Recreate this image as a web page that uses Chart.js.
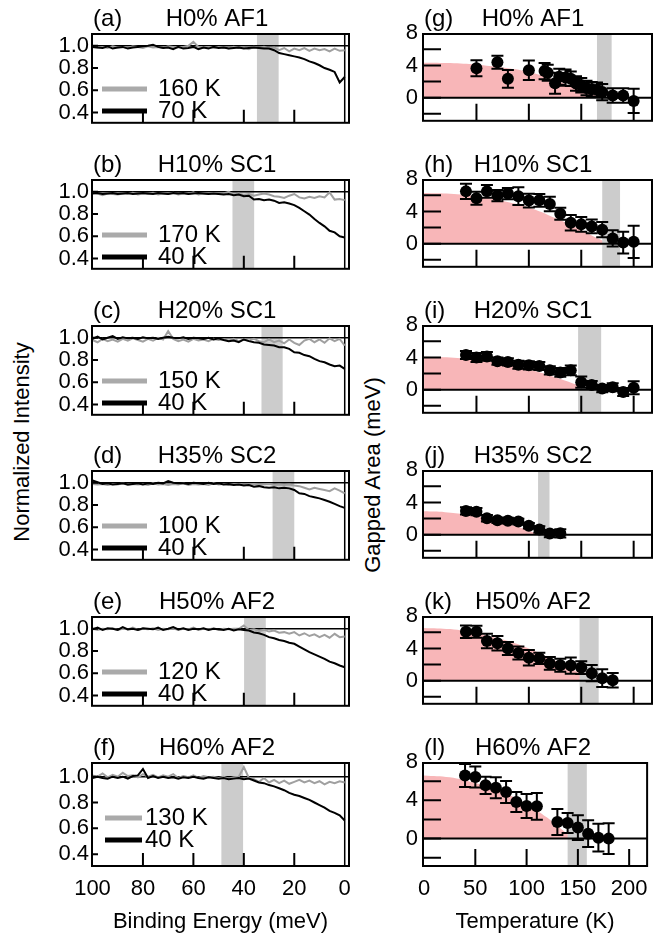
<!DOCTYPE html>
<html>
<head>
<meta charset="utf-8">
<script src="https://cdn.jsdelivr.net/npm/chart.js@4.4.0/dist/chart.umd.min.js"></script>
<style>
  body { margin: 0; background: #fff; width: 658px; height: 939px; position: relative; overflow: hidden;
         font-family: "Liberation Sans", Arial, sans-serif; }
  canvas { position: absolute; }
  .vlab { position: absolute; width: 300px; height: 26px; line-height: 26px; text-align: center;
          font-size: 22px; color: #000; transform: rotate(-90deg); transform-origin: 150px 13px; }
</style>
</head>
<body>
<div class="vlab" style="left:-128px; top:429px;">Normalized Intensity</div>
<div class="vlab" style="left:223px; top:462px;">Gapped Area (meV)</div>
<script>
// ---------- left column: spectra ----------
const energy = [100,98,96,94,92,90,88,86,84,82,80,78,76,74,72,70,68,66,64,62,60,58,56,54,52,50,48,46,44,42,40,38,36,34,32,30,28,26,24,22,20,18,16,14,12,10,8,6,4,2,0];

const leftTags = ["(a)", "(b)", "(c)", "(d)", "(e)", "(f)"];
const leftTitles = ["H0% AF1", "H10% SC1", "H20% SC1", "H35% SC2", "H50% AF2", "H60% AF2"];
const warmLabels = ["160 K", "170 K", "150 K", "100 K", "120 K", "130 K"];
const coldLabels = ["70 K", "40 K", "40 K", "40 K", "40 K", "40 K"];
const leftBands = [[26.2, 34.8], [35.9, 44.5], [24.6, 33], [20, 28.6], [31.3, 39.9], [40.3, 48.9]];

const warmA = [0.99,0.985,0.99,0.98,0.995,0.985,0.99,0.98,0.995,0.99,0.98,0.995,0.985,0.99,0.98,0.995,0.99,0.985,0.99,1.0,1.035,0.99,0.985,0.99,0.98,0.99,0.985,0.975,0.99,0.98,0.985,0.97,0.99,0.98,0.99,0.975,0.985,0.96,0.98,0.95,0.975,0.96,0.98,0.955,0.975,0.96,0.97,0.95,0.975,0.955,0.96];
const coldA = [0.99,0.985,0.98,0.995,0.975,0.985,0.99,0.975,0.985,0.99,0.995,1.0,1.01,0.99,0.98,0.985,0.97,0.99,0.975,0.98,0.99,0.97,0.985,0.975,0.99,0.98,0.985,0.975,0.98,0.985,0.975,0.98,0.985,0.98,0.975,0.975,0.96,0.935,0.925,0.915,0.905,0.895,0.88,0.86,0.845,0.825,0.8,0.785,0.765,0.67,0.72];
const warmB = [0.99,0.985,0.97,0.985,0.98,0.975,0.985,0.98,0.99,0.975,0.985,0.98,0.99,0.975,0.985,0.98,0.99,0.975,0.985,0.98,0.995,0.975,0.985,0.98,0.99,0.98,0.985,1.0,0.975,0.985,0.97,0.98,0.965,0.975,0.985,0.975,0.96,0.955,0.945,0.965,0.98,0.95,0.94,0.955,0.945,0.96,0.95,0.995,0.93,0.935,0.925];
const coldB = [0.985,0.99,0.98,0.985,0.99,0.98,0.985,0.99,0.98,0.985,0.99,0.985,0.98,0.99,0.985,0.98,0.99,0.985,0.99,0.98,0.985,0.99,0.985,0.98,0.985,0.98,0.975,0.98,0.97,0.975,0.96,0.965,0.93,0.935,0.925,0.93,0.92,0.9,0.905,0.895,0.88,0.855,0.825,0.795,0.755,0.72,0.69,0.65,0.635,0.6,0.59];
const warmC = [0.98,0.96,0.99,0.97,0.985,0.965,0.99,0.975,0.995,0.98,0.965,0.99,0.975,1.0,0.985,1.06,0.99,0.97,0.985,0.965,0.99,0.975,0.985,0.97,0.99,0.98,0.985,0.975,0.99,0.97,0.985,0.975,0.99,0.97,0.96,0.985,0.96,0.975,0.95,0.985,0.955,0.935,0.975,0.99,0.96,0.985,0.955,0.995,0.97,0.99,0.93];
const coldC = [0.99,1.01,0.985,1.0,1.015,0.99,1.005,0.995,1.0,0.99,1.005,0.995,1.0,0.99,1.0,1.01,1.0,0.995,1.005,0.99,1.0,0.995,0.99,1.0,0.985,0.995,0.98,0.97,0.975,0.96,0.985,0.97,0.96,0.955,0.94,0.935,0.93,0.915,0.915,0.9,0.87,0.865,0.845,0.835,0.81,0.79,0.78,0.76,0.745,0.75,0.72];
const warmD = [0.99,0.985,0.99,0.98,0.99,0.985,0.995,0.98,0.99,0.985,0.99,0.98,0.995,0.985,0.99,0.98,0.99,0.985,0.995,0.98,0.99,0.985,0.99,0.98,0.995,0.985,0.99,0.98,0.985,0.99,0.98,0.985,0.99,0.98,0.985,0.99,0.98,0.985,0.98,0.985,0.975,0.97,0.955,0.94,0.955,0.945,0.935,0.925,0.95,0.93,0.905];
const coldD = [1.02,1.005,0.99,0.995,0.985,0.99,0.995,0.985,0.99,0.995,0.985,0.995,0.99,1.0,0.995,1.015,1.0,0.995,0.995,0.99,1.0,0.995,0.99,1.0,0.99,0.995,0.985,0.99,0.98,0.985,0.975,0.98,0.965,0.97,0.96,0.955,0.96,0.95,0.955,0.95,0.935,0.905,0.9,0.88,0.87,0.86,0.845,0.83,0.81,0.79,0.775];
const warmE = [1.0,0.99,1.0,0.995,1.005,0.99,1.0,0.995,1.01,0.99,1.0,0.995,1.005,0.99,1.0,0.995,1.005,0.99,1.0,0.995,1.01,0.99,1.0,0.995,1.005,0.99,1.0,0.995,1.0,1.0,1.03,0.99,0.995,0.98,0.99,0.975,0.985,0.965,0.97,0.955,0.97,0.94,0.96,0.935,0.95,0.925,0.945,0.92,0.955,0.925,0.93];
const coldE = [0.995,1.01,0.99,1.005,1.0,0.99,1.015,0.995,1.0,0.99,1.005,1.0,0.995,1.01,0.99,1.0,1.015,0.995,1.005,0.99,1.0,0.995,1.005,0.99,1.0,0.995,0.99,1.0,0.985,0.995,0.99,0.985,0.967,0.96,0.945,0.925,0.915,0.9,0.89,0.875,0.865,0.84,0.815,0.79,0.77,0.75,0.73,0.705,0.69,0.67,0.655];
const warmF = [1.01,1.0,1.025,0.995,1.015,1.0,1.03,1.005,1.01,0.995,1.02,1.0,1.015,0.995,1.01,1.0,1.02,0.99,1.005,0.995,1.01,0.99,1.005,0.995,1.0,0.99,1.0,0.985,0.995,1.0,1.075,0.99,0.98,0.96,0.99,0.955,0.975,0.95,0.97,0.945,0.96,0.975,0.955,0.97,0.95,0.965,0.94,0.96,0.95,0.965,0.955];
const coldF = [0.99,1.0,0.99,0.985,1.0,0.99,1.0,0.985,1.005,1.01,1.06,0.99,1.005,0.99,1.0,0.99,0.995,0.985,0.995,0.99,1.0,0.99,0.985,0.995,0.99,0.985,0.99,0.98,0.985,0.99,0.98,0.985,0.97,0.955,0.95,0.935,0.925,0.91,0.895,0.875,0.86,0.85,0.835,0.82,0.8,0.78,0.76,0.735,0.72,0.7,0.66];

const warmSeries = [warmA, warmB, warmC, warmD, warmE, warmF];
const coldSeries = [coldA, coldB, coldC, coldD, coldE, coldF];
const energyTicks = [0, 20, 40, 60, 80, 100];
const intensityTicks = [0.4, 0.6, 0.8, 1.0];

// ---------- right column: gapped area ----------
const rightTags = ["(g)", "(h)", "(i)", "(j)", "(k)", "(l)"];
const rightTitles = ["H0% AF1", "H10% SC1", "H20% SC1", "H35% SC2", "H50% AF2", "H60% AF2"];
const rightBands = [[165, 179], [170, 187], [147, 169], [108.8, 119.7], [148.4, 166.6], [140, 158.7]];

const tempG = [50,70,80,100,115,118,125,129,135,140,145,150,155,160,165,170,180,190,200];
const areaG = [3.65,4.4,2.35,3.4,3.3,3.1,1.8,2.6,2.5,2.35,1.75,1.55,1.2,1.05,1.0,0.7,0.28,0.28,-0.4];
const errG  = [1.0,0.8,1.1,1.2,1.0,1.0,1.3,1.0,1.0,0.9,0.9,0.9,0.9,0.9,0.9,1.0,0.9,0.9,1.5];
const tempH = [40,50,60,70,80,90,100,110,120,130,140,150,160,170,180,190,200];
const areaH = [6.49,5.63,6.49,5.97,6.22,5.9,5.35,5.38,4.93,3.72,2.6,2.4,2.15,1.74,0.66,0.14,0.24];
const errH  = [0.95,0.8,0.8,0.7,0.7,1.1,0.85,0.8,0.9,0.75,0.95,0.9,0.85,0.95,1.0,1.35,2.0];
const tempI = [40,50,60,70,80,90,100,110,120,130,140,150,160,170,180,190,200];
const areaI = [4.3,4.0,4.13,3.54,3.44,3.09,3.02,2.95,2.4,2.15,2.4,0.94,0.59,0.14,0.31,-0.28,0.24];
const errI  = [0.5,0.55,0.55,0.45,0.45,0.5,0.5,0.5,0.5,0.55,0.6,0.7,0.5,0.45,0.5,0.5,0.8];
const tempJ = [40,50,60,70,80,90,100,110,120,130];
const areaJ = [2.95,2.85,2.05,1.8,1.74,1.63,1.11,0.66,0.14,0.17];
const errJ  = [0.45,0.45,0.4,0.35,0.35,0.35,0.35,0.4,0.45,0.5];
const tempK = [40,50,60,70,80,90,100,110,120,130,140,150,160,170,180];
const areaK = [6.08,6.08,4.93,4.65,3.99,3.44,2.85,2.78,2.15,1.91,1.88,1.63,0.94,0.31,0.07];
const errK  = [0.78,0.75,0.9,0.9,0.8,0.8,0.95,0.7,0.8,0.8,1.0,0.8,1.0,1.1,0.9];
const tempL = [40,50,60,70,80,90,100,110,130,140,150,160,170,180];
const areaL = [6.6,6.43,5.57,5.32,4.87,3.83,3.41,3.37,1.74,1.63,1.15,0.52,0.1,0.0];
const errL  = [1.2,1.1,0.9,1.1,1.15,1.05,1.25,1.4,1.35,1.05,1.3,1.4,1.45,1.6];

// pink shaded region (upper edge)
const pinkTG = [0,25,50,75,100,125,150,170];           const pinkG = [4.35,4.3,4.1,3.75,3.2,2.2,0.9,0];
const pinkTH = [0,25,50,75,100,125,150,165,177];       const pinkH = [6.3,6.2,5.9,5.3,4.5,3.2,1.7,0.7,0];
const pinkTI = [0,25,50,75,100,125,145,158];           const pinkI = [4.1,4.0,3.7,3.2,2.5,1.55,0.65,0];
const pinkTJ = [0,20,40,60,80,100,110];                const pinkJ = [2.9,2.8,2.5,2.05,1.35,0.5,0];
const pinkTK = [0,25,50,75,100,125,145,160];           const pinkK = [6.55,6.4,5.9,5.1,4.0,2.5,1.2,0];
const pinkTL = [0,25,50,75,100,120,135,145];           const pinkL = [6.6,6.4,5.8,4.95,3.6,2.2,0.9,0];

const temps = [tempG, tempH, tempI, tempJ, tempK, tempL];
const areas = [areaG, areaH, areaI, areaJ, areaK, areaL];
const errs = [errG, errH, errI, errJ, errK, errL];
const pinkTs = [pinkTG, pinkTH, pinkTI, pinkTJ, pinkTK, pinkTL];
const pinks = [pinkG, pinkH, pinkI, pinkJ, pinkK, pinkL];
const tempTicks = [0, 50, 100, 150, 200];
const areaTicks = [-2, 0, 2, 4, 6, 8];
const areaLabels = ["", "0", "", "4", "", "8"];

// ---------- drawing ----------
Chart.defaults.font.family = '"Liberation Sans", Arial, sans-serif';
Chart.defaults.font.size = 22;
Chart.defaults.color = "#000";

const panelTops = [34, 180, 326, 471, 617, 763];
const frameH = 103;
const topPad = 34;
const GRAY_BAND = "#cccccc";
const PINK = "#f8b6b8";

const deco = {
  id: "deco",
  beforeDatasetDraw(chart, args, o) {
    if (args.index !== o.under) return;
    const { ctx, chartArea: a, scales: { x, y } } = chart;
    ctx.save();
    ctx.fillStyle = GRAY_BAND;
    const b1 = x.getPixelForValue(o.band[0]);
    const b2 = x.getPixelForValue(o.band[1]);
    ctx.fillRect(Math.min(b1, b2), a.top, Math.abs(b2 - b1), a.bottom - a.top);
    ctx.strokeStyle = "#000";
    ctx.lineWidth = o.refWidth;
    ctx.beginPath();
    const yr = y.getPixelForValue(o.refY);
    ctx.moveTo(a.left, yr);
    ctx.lineTo(a.right, yr);
    if (o.refX !== undefined) {
      const xr = x.getPixelForValue(o.refX);
      ctx.moveTo(xr, a.top);
      ctx.lineTo(xr, a.bottom);
    }
    ctx.stroke();
    if (o.err) {
      const pts = chart.data.datasets[0].data;
      ctx.lineWidth = 2;
      ctx.beginPath();
      pts.forEach((p, i) => {
        const px = x.getPixelForValue(p.x);
        const y1 = y.getPixelForValue(p.y + o.err[i]);
        const y2 = y.getPixelForValue(p.y - o.err[i]);
        ctx.moveTo(px, y1); ctx.lineTo(px, y2);
        ctx.moveTo(px - 6, y1); ctx.lineTo(px + 6, y1);
        ctx.moveTo(px - 6, y2); ctx.lineTo(px + 6, y2);
      });
      ctx.stroke();
    }
    ctx.restore();
  },
  afterDraw(chart, args, o) {
    const { ctx, chartArea: a, scales: { x, y } } = chart;
    ctx.save();
    ctx.strokeStyle = "#000";
    ctx.lineWidth = 2;
    ctx.strokeRect(a.left, a.top, a.right - a.left, a.bottom - a.top);
    ctx.beginPath();
    x.ticks.forEach((t) => {
      const px = x.getPixelForValue(t.value);
      if (px > a.left + 2 && px < a.right - 2 && t.value !== o.refX) {
        ctx.moveTo(px, a.bottom);
        ctx.lineTo(px, a.bottom - o.xTick);
      }
    });
    y.ticks.forEach((t) => {
      const py = y.getPixelForValue(t.value);
      if (py > a.top + 2 && py < a.bottom - 2) {
        ctx.moveTo(a.left, py);
        ctx.lineTo(a.left + o.yTick, py);
      }
    });
    ctx.stroke();

    ctx.fillStyle = "#000";
    ctx.font = '24px "Liberation Sans", Arial, sans-serif';
    ctx.textBaseline = "middle";
    ctx.textAlign = "left";
    ctx.fillText(o.tag, a.left + 1, 19);
    ctx.textAlign = "center";
    ctx.fillText(o.title, a.left + o.titleDx, 19);

    if (o.legend) {
      const L = o.legend;
      ctx.lineWidth = 5;
      ctx.strokeStyle = "#aaaaaa";
      ctx.beginPath();
      ctx.moveTo(a.left + L.x0, a.top + 55); ctx.lineTo(a.left + L.x1, a.top + 55);
      ctx.stroke();
      ctx.strokeStyle = "#000";
      ctx.beginPath();
      ctx.moveTo(a.left + L.x0, a.top + 77); ctx.lineTo(a.left + L.x1, a.top + 77);
      ctx.stroke();
      ctx.textAlign = "left";
      ctx.fillText(L.warm, a.left + L.tx, a.top + 55);
      ctx.fillText(L.cold, a.left + L.tx, a.top + 77);
    }
    ctx.restore();
  }
};

function addCanvas(left, top, w, h) {
  const c = document.createElement("canvas");
  c.width = w; c.height = h;
  c.style.left = left + "px"; c.style.top = top + "px";
  c.style.width = w + "px"; c.style.height = h + "px";
  document.body.appendChild(c);
  return c;
}

const BOTTOM_H = 70;

for (let i = 0; i < 6; i++) {
  const last = i === 5;
  const xH = last ? BOTTOM_H : 0;
  const h = topPad + frameH + xH + 2;

  // left panel
  const cl = addCanvas(0, panelTops[i] - topPad, 351, h);
  new Chart(cl, {
    type: "scatter",
    data: {
      datasets: [
        { data: energy.map((e, k) => ({ x: e, y: coldSeries[i][k] })), showLine: true,
          borderColor: "#000", borderWidth: 2, pointRadius: 0, tension: 0 },
        { data: energy.map((e, k) => ({ x: e, y: warmSeries[i][k] })), showLine: true,
          borderColor: "#a0a0a0", borderWidth: 2, pointRadius: 0, tension: 0 }
      ]
    },
    options: {
      responsive: false, animation: false, devicePixelRatio: 1,
      layout: { padding: { top: topPad, left: 0, right: 2, bottom: 2 } },
      plugins: {
        legend: { display: false }, tooltip: { enabled: false },
        deco: {
          under: 1, band: leftBands[i], refY: 1.0, refX: 0, refWidth: 1.5,
          xTick: 13, yTick: 6, tag: leftTags[i], title: leftTitles[i], titleDx: 125,
          legend: { warm: warmLabels[i], cold: coldLabels[i],
                    x0: last ? 13 : 10, x1: last ? 50 : 55, tx: last ? 53 : 66 }
        }
      },
      scales: {
        x: {
          type: "linear", reverse: true, min: -1.7, max: 100.2,
          grid: { display: false, drawTicks: false }, border: { display: false },
          afterBuildTicks: (s) => { s.ticks = energyTicks.map((v) => ({ value: v })); },
          afterFit: (s) => { s.height = xH; },
          ticks: { display: last, autoSkip: false, maxRotation: 0, padding: 10 },
          title: { display: last, text: "Binding Energy (meV)", font: { size: 22 }, padding: { top: 0, bottom: 1 } }
        },
        y: {
          type: "linear", min: 0.308, max: 1.106,
          grid: { display: false, drawTicks: false }, border: { display: false },
          afterBuildTicks: (s) => { s.ticks = intensityTicks.map((v) => ({ value: v })); },
          afterFit: (s) => { s.width = 92; },
          ticks: { padding: 3, callback: (v) => v.toFixed(1) }
        }
      }
    },
    plugins: [deco]
  });

  // right panel
  const cr = addCanvas(330, panelTops[i] - topPad, 328, h);
  new Chart(cr, {
    type: "scatter",
    data: {
      datasets: [
        { data: temps[i].map((t, k) => ({ x: t, y: areas[i][k] })), pointRadius: 6,
          pointBackgroundColor: "#000", pointBorderWidth: 0 },
        { data: pinkTs[i].map((t, k) => ({ x: t, y: pinks[i][k] })), showLine: true,
          fill: "origin", backgroundColor: PINK, borderWidth: 0, pointRadius: 0, tension: 0.4 }
      ]
    },
    options: {
      responsive: false, animation: false, devicePixelRatio: 1,
      layout: { padding: { top: topPad, left: 0, right: 2, bottom: 2 } },
      plugins: {
        legend: { display: false }, tooltip: { enabled: false },
        deco: {
          under: 0, band: rightBands[i], refY: 0, refWidth: 2, err: errs[i],
          xTick: 17, yTick: 18, tag: rightTags[i], title: rightTitles[i], titleDx: 110
        }
      },
      scales: {
        x: {
          type: "linear", min: -1, max: 217.5,
          grid: { display: false, drawTicks: false }, border: { display: false },
          afterBuildTicks: (s) => { s.ticks = tempTicks.map((v) => ({ value: v })); },
          afterFit: (s) => { s.height = xH; },
          ticks: { display: last, autoSkip: false, maxRotation: 0, padding: 10 },
          title: { display: last, text: "Temperature (K)", font: { size: 22 }, padding: { top: 0, bottom: 1 } }
        },
        y: {
          type: "linear", min: -2.86, max: 7.9,
          grid: { display: false, drawTicks: false }, border: { display: false },
          afterBuildTicks: (s) => { s.ticks = areaTicks.map((v) => ({ value: v })); },
          afterFit: (s) => { s.width = 93; },
          ticks: { padding: 5, autoSkip: false, callback: (v, k) => areaLabels[k] }
        }
      }
    },
    plugins: [deco]
  });
}
</script>
</body>
</html>
